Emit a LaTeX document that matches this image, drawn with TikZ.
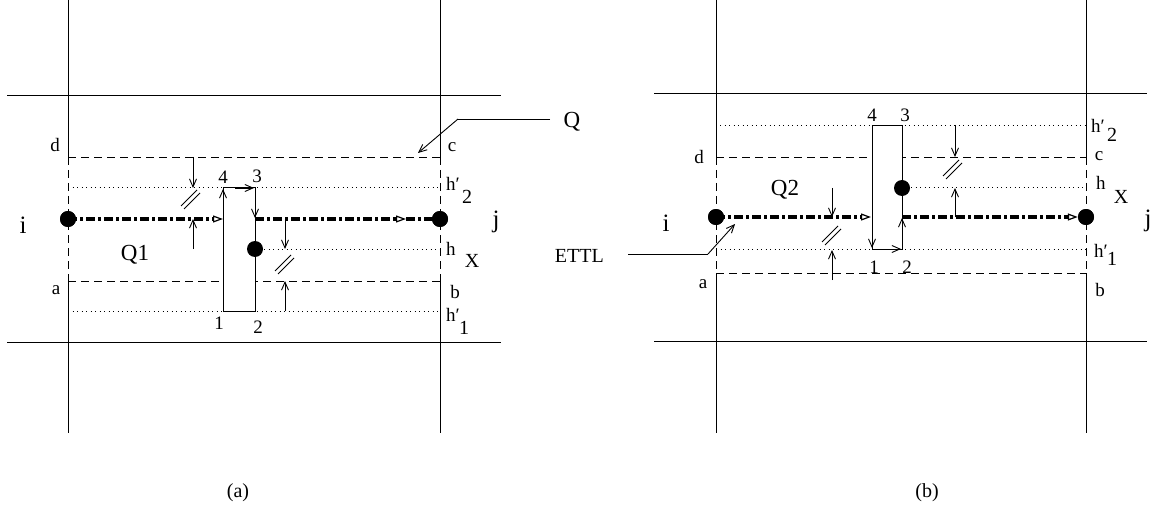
\documentclass[tikz,border=0pt]{standalone}
\usepackage{fontspec}
\setmainfont{Liberation Serif}
\usetikzlibrary{arrows.meta}
\tikzset{
  gridln/.style={line width=1pt},
  dsh/.style={line width=0.9pt, dash pattern=on 8pt off 5pt},
  dtt/.style={line width=1pt, dash pattern=on 1pt off 3.5pt},
  cl/.style={line width=3.2pt, dash pattern=on 9pt off 3pt on 3pt off 3pt},
  clarrow/.style={cl, -{Triangle[open,length=10pt,width=7pt,line width=1.2pt]}},
  pt/.style={circle, fill=black, minimum size=16pt, inner sep=0pt},
  dimarr/.style={line width=0.9pt, -{Straight Barb[length=8pt,width=7pt]}},
  thin/.style={line width=0.9pt},
  boxln/.style={line width=1pt, fill=white},
  lbl/.style={font=\fontsize{19pt}{22pt}\selectfont, inner sep=0pt},
  sub/.style={font=\fontsize{20pt}{22pt}\selectfont, inner sep=0pt},
  big/.style={font=\fontsize{25pt}{28pt}\selectfont, inner sep=0pt},
  qlbl/.style={font=\fontsize{23pt}{26pt}\selectfont, inner sep=0pt},
}
\newcommand{\dslash}[2]{%
  \draw[thin] (#1-11,#2+6) -- (#1+5,#2-10);
  \draw[thin] (#1-8,#2+9) -- (#1+8,#2-7);}
\begin{document}
\begin{tikzpicture}[x=1pt,y=-1pt]
\useasboundingbox (0,0) rectangle (1153,513);

% ===================== panel (a) =====================
% grid
\draw[gridln] (7,96) -- (501,96);
\draw[gridln] (7,342) -- (501,342);
\draw[gridln] (68,0) -- (68,157);
\draw[dsh] (68,157) -- (68,281);
\draw[gridln] (68,281) -- (68,433);
\draw[gridln] (440,0) -- (440,157);
\draw[dsh] (440,157) -- (440,281);
\draw[gridln] (440,281) -- (440,433);
% levels
\draw[dsh] (68,157) -- (440,157);
\draw[dtt] (68,188) -- (440,188);
\draw[dtt] (255,249) -- (440,249);
\draw[dsh] (68,281) -- (440,281);
\draw[dtt] (68,311) -- (440,311);
% box
\draw[boxln] (223,188) rectangle (255,311);
\draw[dimarr] (223,225) -- (223,189);
\draw[dimarr] (235,188) -- (254,188);
\draw[dimarr] (255,195) -- (255,218);
% centre line
\node[pt] (ia) at (68,219) {};
\node[pt] (ja) at (440,219) {};
\node[pt] (ma) at (255,249) {};
\coordinate (al) at (223,219);
\coordinate (ar) at (255,219);
\coordinate (atip) at (406,219);
\draw[clarrow] (ia.center) -- (al);
\draw[clarrow] (ar) -- (atip);
\draw[cl] (atip) -- (ja.center);
\node[pt] at (ia) {};
\node[pt] at (ja) {};
% dimensions
\draw[dimarr] (193,157) -- (193,188);
\dslash{192}{200}
\draw[dimarr] (193,249) -- (193,219);
\draw[dimarr] (285,219) -- (285,249);
\dslash{286}{265}
\draw[dimarr] (285,311) -- (285,281);
% Q pointer
\node[qlbl] (Q) at (572,122) {Q};
\coordinate (qk) at (458,119);
\draw[thin] (550,119) -- (qk);
\draw[dimarr] (qk) -- (418,153);
% labels
\node[big] at (23,225) {i};
\node[big] at (496,222) {j};
\node[qlbl] at (135,255) {Q1};
\node[lbl] at (55,145) {d};
\node[lbl] at (56,290) {a};
\node[lbl] at (452,147) {c};
\node[lbl] at (455,292) {b};
\node[lbl] at (223,177) {4};
\node[lbl] at (257,176) {3};
\node[lbl] at (219,323) {1};
\node[lbl] at (258,327) {2};
\node[lbl,anchor=west] at (446,184) {h′};
\node[sub] at (467,197) {2};
\node[lbl,anchor=west] at (446,249) {h};
\node[sub] at (472,261) {X};
\node[lbl,anchor=west] at (446,315) {h′};
\node[sub] at (464,328) {1};
\node[lbl,font=\fontsize{20pt}{22pt}\selectfont] at (238,493) {(a)};

% ===================== panel (b) =====================
\draw[gridln] (654,94) -- (1147,94);
\draw[gridln] (654,341) -- (1147,341);
\draw[gridln] (716,0) -- (716,157);
\draw[dsh] (716,157) -- (716,273);
\draw[gridln] (716,273) -- (716,433);
\draw[gridln] (1086,0) -- (1086,157);
\draw[dsh] (1086,157) -- (1086,273);
\draw[gridln] (1086,273) -- (1086,433);
% levels
\draw[dtt] (720,126) -- (1086,126);
\draw[dsh] (716,157) -- (1086,157);
\draw[dtt] (902,188) -- (1086,188);
\draw[dtt] (716,249) -- (1086,249);
\draw[dsh] (716,273) -- (1086,273);
% box
\draw[boxln] (872,126) rectangle (902,249);
\draw[dimarr] (872,225) -- (872,248);
\draw[dimarr] (880,249) -- (901,249);
\draw[dimarr] (902,242) -- (902,218);
% centre line
\node[pt] (ib) at (716,217) {};
\node[pt] (jb) at (1086,217) {};
\node[pt] (mb) at (902,188) {};
\coordinate (bl) at (871,217);
\coordinate (br) at (902,217);
\draw[clarrow] (ib.center) -- (bl);
\draw[clarrow] (br) -- (jb.west);
\node[pt] at (ib) {};
\node[pt] at (jb) {};
% dimensions
\draw[dimarr] (832,188) -- (832,217);
\dslash{833}{236}
\draw[dimarr] (832,280) -- (832,250);
\draw[dimarr] (955,125) -- (955,157);
\dslash{954}{170}
\draw[dimarr] (955,217) -- (955,188);
% ETTL pointer
\node[lbl,font=\fontsize{20pt}{22pt}\selectfont,anchor=east] (E) at (604,256) {ETTL};
\coordinate (ek) at (708,254);
\draw[thin] (628,254) -- (ek);
\draw[dimarr] (ek) -- (735,224);
% labels
\node[big] at (666,223) {i};
\node[big] at (1148,221) {j};
\node[qlbl] at (785,190) {Q2};
\node[lbl] at (699,157) {d};
\node[lbl] at (703,284) {a};
\node[lbl] at (1099,156) {c};
\node[lbl] at (1100,290) {b};
\node[lbl] at (872,115) {4};
\node[lbl] at (905,115) {3};
\node[lbl] at (874,267) {1};
\node[lbl] at (907,267) {2};
\node[lbl,anchor=west] at (1091,126) {h′};
\node[sub] at (1112,135) {2};
\node[lbl,anchor=west] at (1096,183) {h};
\node[sub] at (1121,197) {X};
\node[lbl,anchor=west] at (1094,251) {h′};
\node[sub] at (1112,259) {1};
\node[lbl,font=\fontsize{20pt}{22pt}\selectfont] at (927,493) {(b)};
\end{tikzpicture}
\end{document}
